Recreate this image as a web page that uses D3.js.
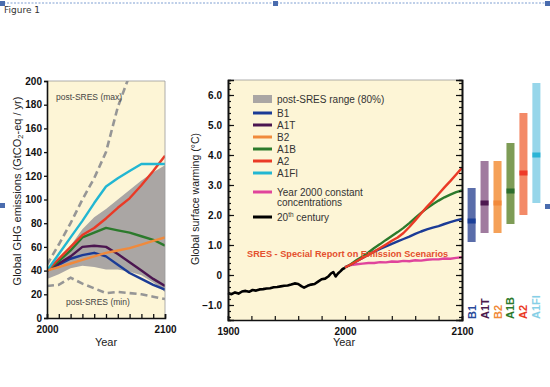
<!DOCTYPE html>
<html><head><meta charset="utf-8">
<script src="https://cdn.jsdelivr.net/npm/d3@7"></script>
<style>body{margin:0;background:#fff}svg{display:block;font-family:"Liberation Sans",Arial,sans-serif}</style>
</head><body><svg id="c" width="550" height="387"></svg>
<script>
// ---------- DATA ----------
const emisYears = [2000,2010,2020,2030,2040,2050,2060,2070,2080,2090,2100];
const emisB1   = [40,45,50,53,55,52,45,38,33,28,24];
const emisA1T  = [40,46,52,60,61,60,54,47,40,33,27];
const emisB2   = [40,43,46,49,52,55,57,59,62,65,68];
const emisA1B  = [40,48,57,68,72,76,74,72,69,66,61];
const emisA2   = [40,50,60,70,76,84,93,101,112,124,137];
const emisA1FI = [40,54,68,82,97,111,118,124,130,130,130];
const bandUpper = [40,49,61,75,85,92,100,108,116,123,129];
const bandLower = [33,37,42,44,43,41,41,39,36,30,22];
const postMax  = [45,62,80,100,118,140,178,205];
const postMaxYears = [2000,2010,2020,2030,2040,2050,2060,2070];
const postMin  = [27,28,34,29,25,21,22,21,20,18,16];
const emisTicks = [0,20,40,60,80,100,120,140,160,180,200];

const histYears = [1900,1903,1906,1909,1912,1915,1918,1921,1924,1927,1930,1933,1936,1939,1942,1945,1948,1951,1954,1957,1960,1963,1965,1968,1971,1974,1977,1980,1983,1986,1988,1990,1992,1994,1996,1998,2000];
const histTemp  = [-0.60,-0.64,-0.58,-0.62,-0.55,-0.53,-0.56,-0.50,-0.52,-0.48,-0.47,-0.45,-0.44,-0.41,-0.40,-0.38,-0.36,-0.35,-0.32,-0.28,-0.30,-0.38,-0.42,-0.36,-0.32,-0.30,-0.22,-0.14,-0.12,-0.04,0.05,0.10,-0.05,0.05,0.12,0.20,0.24];
const projYears = [2000,2005,2010,2015,2020,2025,2030,2035,2040,2045,2050,2055,2060,2065,2070,2075,2080,2085,2090,2095,2100];
const tempB1  = [0.25,0.35,0.46,0.57,0.68,0.78,0.87,0.95,1.04,1.12,1.20,1.28,1.37,1.45,1.52,1.58,1.63,1.70,1.76,1.82,1.87];
const tempA1B = [0.25,0.36,0.50,0.62,0.75,0.90,1.03,1.17,1.30,1.43,1.57,1.73,1.90,2.07,2.22,2.36,2.48,2.59,2.68,2.76,2.82];
const tempA2  = [0.25,0.35,0.46,0.57,0.67,0.78,0.90,1.02,1.14,1.25,1.40,1.60,1.82,2.05,2.27,2.48,2.70,2.92,3.13,3.35,3.57];
const tempConst = [0.27,0.33,0.36,0.38,0.40,0.40,0.43,0.42,0.45,0.44,0.47,0.46,0.49,0.48,0.51,0.52,0.52,0.55,0.54,0.57,0.59];
const tempMajorTicks = [-1,0,1,2,3,4,5,6];
const tempTickLabels = ["\u22121.0","0","1.0","2.0","3.0","4.0","5.0","6.0"];

const scenarios = ["B1","A1T","B2","A1B","A2","A1FI"];
const rangeLow  = [1.1,1.4,1.4,1.7,2.0,2.4];
const rangeHigh = [2.9,3.8,3.8,4.4,5.4,6.4];
const bestEst   = [1.8,2.4,2.4,2.8,3.4,4.0];

const lineColor = {B1:"#1b3b96",A1T:"#4b1650",B2:"#f08a3c",A1B:"#2c7a2c",A2:"#ea3a26",A1FI:"#22b6d2",Const:"#e0449c",Hist:"#000"};
const barColor  = {B1:"#5a6daa",A1T:"#a07b9f",B2:"#f5a158",A1B:"#7e9c56",A2:"#f38a68",A1FI:"#97d6ea"};
const markColor = {B1:"#1b3f98",A1T:"#4d1850",B2:"#f28a3a",A1B:"#2d6e2d",A2:"#ee3a28",A1FI:"#2ab4d6"};
const labelColor= {B1:"#2a4a9a",A1T:"#4b1a4d",B2:"#f08a3a",A1B:"#2c7a2c",A2:"#ea3a26",A1FI:"#86cfe6"};

// ---------- DRAW ----------
const svg = d3.select("#c");
const cream = "#fdf5d6";

// header
svg.append("line").attr("x1",0).attr("x2",550).attr("y1",3).attr("y2",3)
  .attr("stroke","#7f9fd2").attr("stroke-dasharray","2,1.5").attr("stroke-width",1);
[[0,1],[273,1],[545,1],[0,203],[545,204]].forEach(p=>svg.append("rect").attr("x",p[0]).attr("y",p[1]).attr("width",5).attr("height",5).attr("fill","#4a6cae"));
svg.append("text").attr("x",4).attr("y",13).attr("font-family","DejaVu Sans").attr("font-size",9).attr("fill","#333").text("Figure 1");

// ===== Left panel =====
const xL = d3.scaleLinear().domain([2000,2100]).range([47,165]);
const yL = d3.scaleLinear().domain([0,200]).range([318,81]);
const gL = svg.append("g");
gL.append("rect").attr("x",xL(2000)).attr("y",yL(200)).attr("width",xL(2100)-xL(2000)).attr("height",yL(0)-yL(200)).attr("fill",cream);
svg.append("clipPath").attr("id","clipL").append("rect").attr("x",xL(2000)).attr("y",yL(200)).attr("width",xL(2100)-xL(2000)).attr("height",yL(0)-yL(200));

const bandData = emisYears.map((y,i)=>({y, lo:bandLower[i], hi:bandUpper[i]}));
gL.append("path").datum(bandData).attr("fill","#aaa6a4")
  .attr("d", d3.area().x(d=>xL(d.y)).y0(d=>yL(d.lo)).y1(d=>yL(d.hi)));

const dashLine = d3.line().x(d=>xL(d[0])).y(d=>yL(d[1]));
gL.append("path").datum(postMaxYears.map((y,i)=>[y,postMax[i]])).attr("clip-path","url(#clipL)")
  .attr("fill","none").attr("stroke","#969696").attr("stroke-width",2.6).attr("stroke-dasharray","7,4").attr("d",dashLine);
gL.append("path").datum(emisYears.map((y,i)=>[y,postMin[i]])).attr("clip-path","url(#clipL)")
  .attr("fill","none").attr("stroke","#969696").attr("stroke-width",2.6).attr("stroke-dasharray","7,4").attr("d",dashLine);

const emisSeries = [["B1",emisB1],["A1T",emisA1T],["A1B",emisA1B],["A2",emisA2],["A1FI",emisA1FI],["B2",emisB2]];
emisSeries.forEach(([k,v])=>{
  gL.append("path").datum(emisYears.map((y,i)=>[y,v[i]])).attr("clip-path","url(#clipL)")
    .attr("fill","none").attr("stroke",lineColor[k]).attr("stroke-width",2.4).attr("stroke-linejoin","round").attr("d",dashLine);
});

gL.append("text").attr("x",56).attr("y",100).attr("font-size",8.5).attr("fill","#444").text("post-SRES (max)");
gL.append("text").attr("x",66).attr("y",305).attr("font-size",8.5).attr("fill","#444").text("post-SRES (min)");

// frame
gL.append("line").attr("x1",xL(2000)).attr("x2",xL(2100)).attr("y1",yL(200)).attr("y2",yL(200)).attr("stroke","#999").attr("stroke-width",0.8);
gL.append("line").attr("x1",xL(2100)).attr("x2",xL(2100)).attr("y1",yL(200)).attr("y2",yL(0)).attr("stroke","#999").attr("stroke-width",0.8);

const axLy = gL.append("g").attr("transform",`translate(${xL(2000)},0)`)
  .call(d3.axisLeft(yL).tickValues(emisTicks).tickSize(3).tickPadding(2));
const axLx = gL.append("g").attr("transform",`translate(0,${yL(0)})`)
  .call(d3.axisBottom(xL).tickValues(d3.range(2000,2101,10)).tickSize(-4).tickPadding(8)
    .tickFormat(d=> (d===2000||d===2100)? d : ""));
[axLy,axLx].forEach(a=>{
  a.select(".domain").attr("stroke","#111").attr("stroke-width",1.6);
  a.selectAll(".tick line").attr("stroke","#111").attr("stroke-width",1.3);
  a.selectAll("text").attr("font-size",10).attr("font-weight","bold").attr("fill","#111").attr("font-family","Liberation Sans, Arial");
});
gL.append("text").attr("x",106).attr("y",346).attr("text-anchor","middle").attr("font-size",11).attr("fill","#222").text("Year");
const ylab = gL.append("text").attr("transform","translate(21,191) rotate(-90)").attr("text-anchor","middle").attr("font-size",11).attr("fill","#222");
ylab.append("tspan").text("Global GHG emissions (GtCO");
ylab.append("tspan").attr("font-size",7.5).attr("dy",2).text("2");
ylab.append("tspan").attr("dy",-2).text("-eq / yr)");

// ===== Right panel =====
const xR = d3.scaleLinear().domain([1900,2100]).range([228,462]);
const yR = d3.scaleLinear().domain([-1.5,6.5]).range([320,80]);
const gR = svg.append("g");
gR.append("rect").attr("x",xR(1900)).attr("y",yR(6.5)).attr("width",xR(2100)-xR(1900)).attr("height",yR(-1.5)-yR(6.5)).attr("fill",cream);
svg.append("clipPath").attr("id","clipR").append("rect").attr("x",xR(1900)).attr("y",yR(6.5)).attr("width",xR(2100)-xR(1900)).attr("height",yR(-1.5)-yR(6.5));
gR.append("line").attr("x1",xR(1900)).attr("x2",xR(2100)).attr("y1",yR(6.5)).attr("y2",yR(6.5)).attr("stroke","#999").attr("stroke-width",0.8);

const tLine = d3.line().x(d=>xR(d[0])).y(d=>yR(d[1]));
[["Const",tempConst],["B1",tempB1],["A1B",tempA1B],["A2",tempA2]].forEach(([k,v])=>{
  gR.append("path").datum(projYears.map((y,i)=>[y,v[i]])).attr("clip-path","url(#clipR)")
    .attr("fill","none").attr("stroke",lineColor[k]).attr("stroke-width",2.4).attr("stroke-linejoin","round").attr("d",tLine);
});
gR.append("path").datum(histYears.map((y,i)=>[y,histTemp[i]])).attr("fill","none")
  .attr("stroke","#000").attr("stroke-width",2.6).attr("stroke-linejoin","round").attr("d",tLine);

// axes
const minor = d3.range(-14,65,2).map(d=>d/10);
const axes = [];
axes.push(gR.append("g").attr("transform",`translate(${xR(1900)},0)`).call(d3.axisLeft(yR).tickValues(minor).tickSize(-3).tickFormat("")));
axes.push(gR.append("g").attr("transform",`translate(${xR(1900)},0)`).call(d3.axisLeft(yR).tickValues(tempMajorTicks).tickSize(-6).tickPadding(6).tickFormat((d,i)=>tempTickLabels[i])));
axes.push(gR.append("g").attr("transform",`translate(${xR(2100)},0)`).call(d3.axisRight(yR).tickValues(minor).tickSize(-3).tickFormat("")));
axes.push(gR.append("g").attr("transform",`translate(${xR(2100)},0)`).call(d3.axisRight(yR).tickValues(tempMajorTicks).tickSize(-6).tickFormat("")));
axes.push(gR.append("g").attr("transform",`translate(0,${yR(-1.5)})`).call(d3.axisBottom(xR).tickValues(d3.range(1900,2101,20)).tickSize(-4).tickPadding(8)
  .tickFormat(d=>(d===1900||d===2000||d===2100)?d:"")));
axes.forEach(a=>{
  a.select(".domain").attr("stroke","#111").attr("stroke-width",1.6);
  a.selectAll(".tick line").attr("stroke","#111").attr("stroke-width",1.2);
  a.selectAll("text").attr("font-size",10).attr("font-weight","bold").attr("fill","#111").attr("font-family","Liberation Sans, Arial");
});
gR.append("text").attr("x",344).attr("y",346).attr("text-anchor","middle").attr("font-size",11).attr("fill","#222").text("Year");
gR.append("text").attr("transform","translate(199,199) rotate(-90)").attr("text-anchor","middle").attr("font-size",10.5).attr("fill","#222").text("Global surface warming (\u00B0C)");

// legend
const lg = gR.append("g");
lg.append("rect").attr("x",253).attr("y",95).attr("width",19).attr("height",8).attr("fill","#aaa6a4");
lg.append("text").attr("x",277).attr("y",102.5).attr("font-size",10).attr("fill","#333").text("post-SRES range (80%)");
const legItems = [["B1","B1",113],["A1T","A1T",125],["B2","B2",137],["A1B","A1B",149],["A2","A2",161],["A1FI","A1FI",173],["Const","Year 2000 constant",192],["Hist","",217]];
legItems.forEach(([k,t,y])=>{
  lg.append("line").attr("x1",253).attr("x2",272).attr("y1",y).attr("y2",y).attr("stroke",lineColor[k]).attr("stroke-width",3);
  if(t) lg.append("text").attr("x",277).attr("y",y+3.5).attr("font-size",10).attr("fill","#333").text(t);
});
lg.append("text").attr("x",277).attr("y",205.5).attr("font-size",10).attr("fill","#333").text("concentrations");
const tc = lg.append("text").attr("x",277).attr("y",220.5).attr("font-size",10).attr("fill","#333");
tc.append("tspan").text("20");
tc.append("tspan").attr("font-size",6.5).attr("dy",-4).text("th");
tc.append("tspan").attr("dy",4).text(" century");

gR.append("text").attr("x",247).attr("y",257).attr("font-size",9.2).attr("font-weight","bold").attr("fill","#e4502e").text("SRES - Special Report on Emission Scenarios");

// ===== Range bars =====
const xB = d3.scaleBand().domain(scenarios).range([465,543]).paddingInner(0.38).paddingOuter(0.2);
const bw = xB.bandwidth();
scenarios.forEach((s,i)=>{
  svg.append("rect").attr("x",xB(s)).attr("y",yR(rangeHigh[i])).attr("width",bw).attr("height",yR(rangeLow[i])-yR(rangeHigh[i])).attr("fill",barColor[s]);
  svg.append("rect").attr("x",xB(s)).attr("y",yR(bestEst[i])-2.5).attr("width",bw).attr("height",5).attr("fill",markColor[s]);
  svg.append("text").attr("transform",`translate(${xB(s)+bw/2},319) rotate(-90)`).attr("dominant-baseline","central")
    .attr("font-size",11).attr("font-weight","bold").attr("fill",labelColor[s]).text(s);
});
</script></body></html>
